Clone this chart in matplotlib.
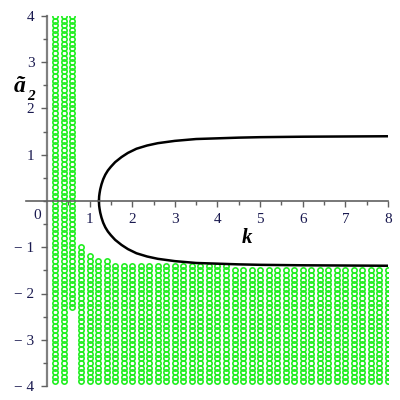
import numpy as np
import matplotlib
matplotlib.use('Agg')
import matplotlib.pyplot as plt

# green region: one column per k, from bottom to top (step 0.1 in a2)
col_k = [0.2, 0.4, 0.6, 0.8, 1.0, 1.2, 1.4, 1.6, 1.8, 2.0,
         2.2, 2.4, 2.6, 2.8, 3.0, 3.2, 3.4, 3.6, 3.8, 4.0,
         4.2, 4.4, 4.6, 4.8, 5.0, 5.2, 5.4, 5.6, 5.8, 6.0,
         6.2, 6.4, 6.6, 6.8, 7.0, 7.2, 7.4, 7.6, 7.8, 8.0]
col_top = [4.0, 4.0, 4.0, -1.0, -1.2, -1.3, -1.3, -1.4, -1.4, -1.4,
           -1.4, -1.4, -1.4, -1.4, -1.4, -1.4, -1.4, -1.4, -1.4, -1.4,
           -1.4, -1.5, -1.5, -1.5, -1.5, -1.5, -1.5, -1.5, -1.5, -1.5,
           -1.5, -1.5, -1.5, -1.5, -1.5, -1.5, -1.5, -1.5, -1.5, -1.5]
col_bot = [-3.9, -3.9, -2.3] + [-3.9] * 37

# black curve (upper branch, lower branch is the mirror)
curve_k = [1.22, 1.225, 1.235, 1.25, 1.28, 1.32, 1.37, 1.43, 1.5, 1.6, 1.75,
           1.9, 2.1, 2.35, 2.6, 3.0, 3.5, 4.0, 4.5, 5.0, 6.0, 7.0, 8.0]
curve_a = [0.0, 0.1, 0.17, 0.25, 0.36, 0.47, 0.57, 0.66, 0.74, 0.84, 0.95,
           1.04, 1.13, 1.20, 1.25, 1.30, 1.34, 1.355, 1.37, 1.38, 1.39, 1.395, 1.40]

fig = plt.figure(figsize=(4, 4), dpi=100)
ax = fig.add_axes([0.064, 0.035, 0.906, 0.925])

for k, top, bot in zip(col_k, col_top, col_bot):
    ys = np.arange(bot, top + 0.05, 0.1)
    ax.plot([k] * len(ys), ys, linestyle='none', marker='o', ms=3.8,
            mfc='none', mec='#22ee22', mew=1.2, zorder=2)

ax.plot(curve_k, curve_a, color='black', lw=1.8, zorder=3)
ax.plot(curve_k, [-v for v in curve_a], color='black', lw=1.8, zorder=3)

ax.set_xlim(-0.5, 8.0)
ax.set_ylim(-4.0, 4.0)

for s in ['top', 'right']:
    ax.spines[s].set_visible(False)
ax.spines['left'].set_position(('data', 0))
ax.spines['bottom'].set_position(('data', 0))
ax.spines['left'].set_color('#808080')
ax.spines['bottom'].set_color('#606060')
ax.spines['left'].set_linewidth(1.6)
ax.spines['bottom'].set_linewidth(1.2)
ax.spines['left'].set_zorder(1)
ax.spines['bottom'].set_zorder(4)

ax.set_xticks(range(1, 9))
ax.set_xticks(np.arange(0.5, 8.01, 0.5), minor=True)
ax.set_yticks([-4, -3, -2, -1, 1, 2, 3, 4])
ax.set_yticklabels(['\u2212 4', '\u2212 3', '\u2212 2', '\u2212 1', '1', '2', '3', '4'])
ax.set_yticks(np.arange(-3.5, 4.0, 0.5), minor=True)
ax.tick_params(which='both', direction='out', color='#606060', width=1)
ax.tick_params(which='major', length=4, labelsize=11, pad=5)
ax.tick_params(which='minor', length=3)
for lab in ax.get_xticklabels() + ax.get_yticklabels():
    lab.set_fontfamily('Liberation Serif')
    lab.set_color('#1a1a50')

ax.text(-0.22, -0.18, '0', ha='center', va='top', fontsize=11,
        family='Liberation Serif', color='#1a1a50')

# axis labels
ax.text(4.7, -0.8, 'k', ha='center', va='center', fontsize=15,
        family='Liberation Serif', style='italic', weight='bold')
fig.text(0.05, 0.785, '\u00e3', ha='center', va='center', fontsize=17,
         family='Liberation Serif', style='italic', weight='bold')
fig.text(0.078, 0.758, '2', ha='center', va='center', fontsize=11,
         family='Liberation Serif', style='italic', weight='bold')

fig.savefig('out.png', dpi=100)
